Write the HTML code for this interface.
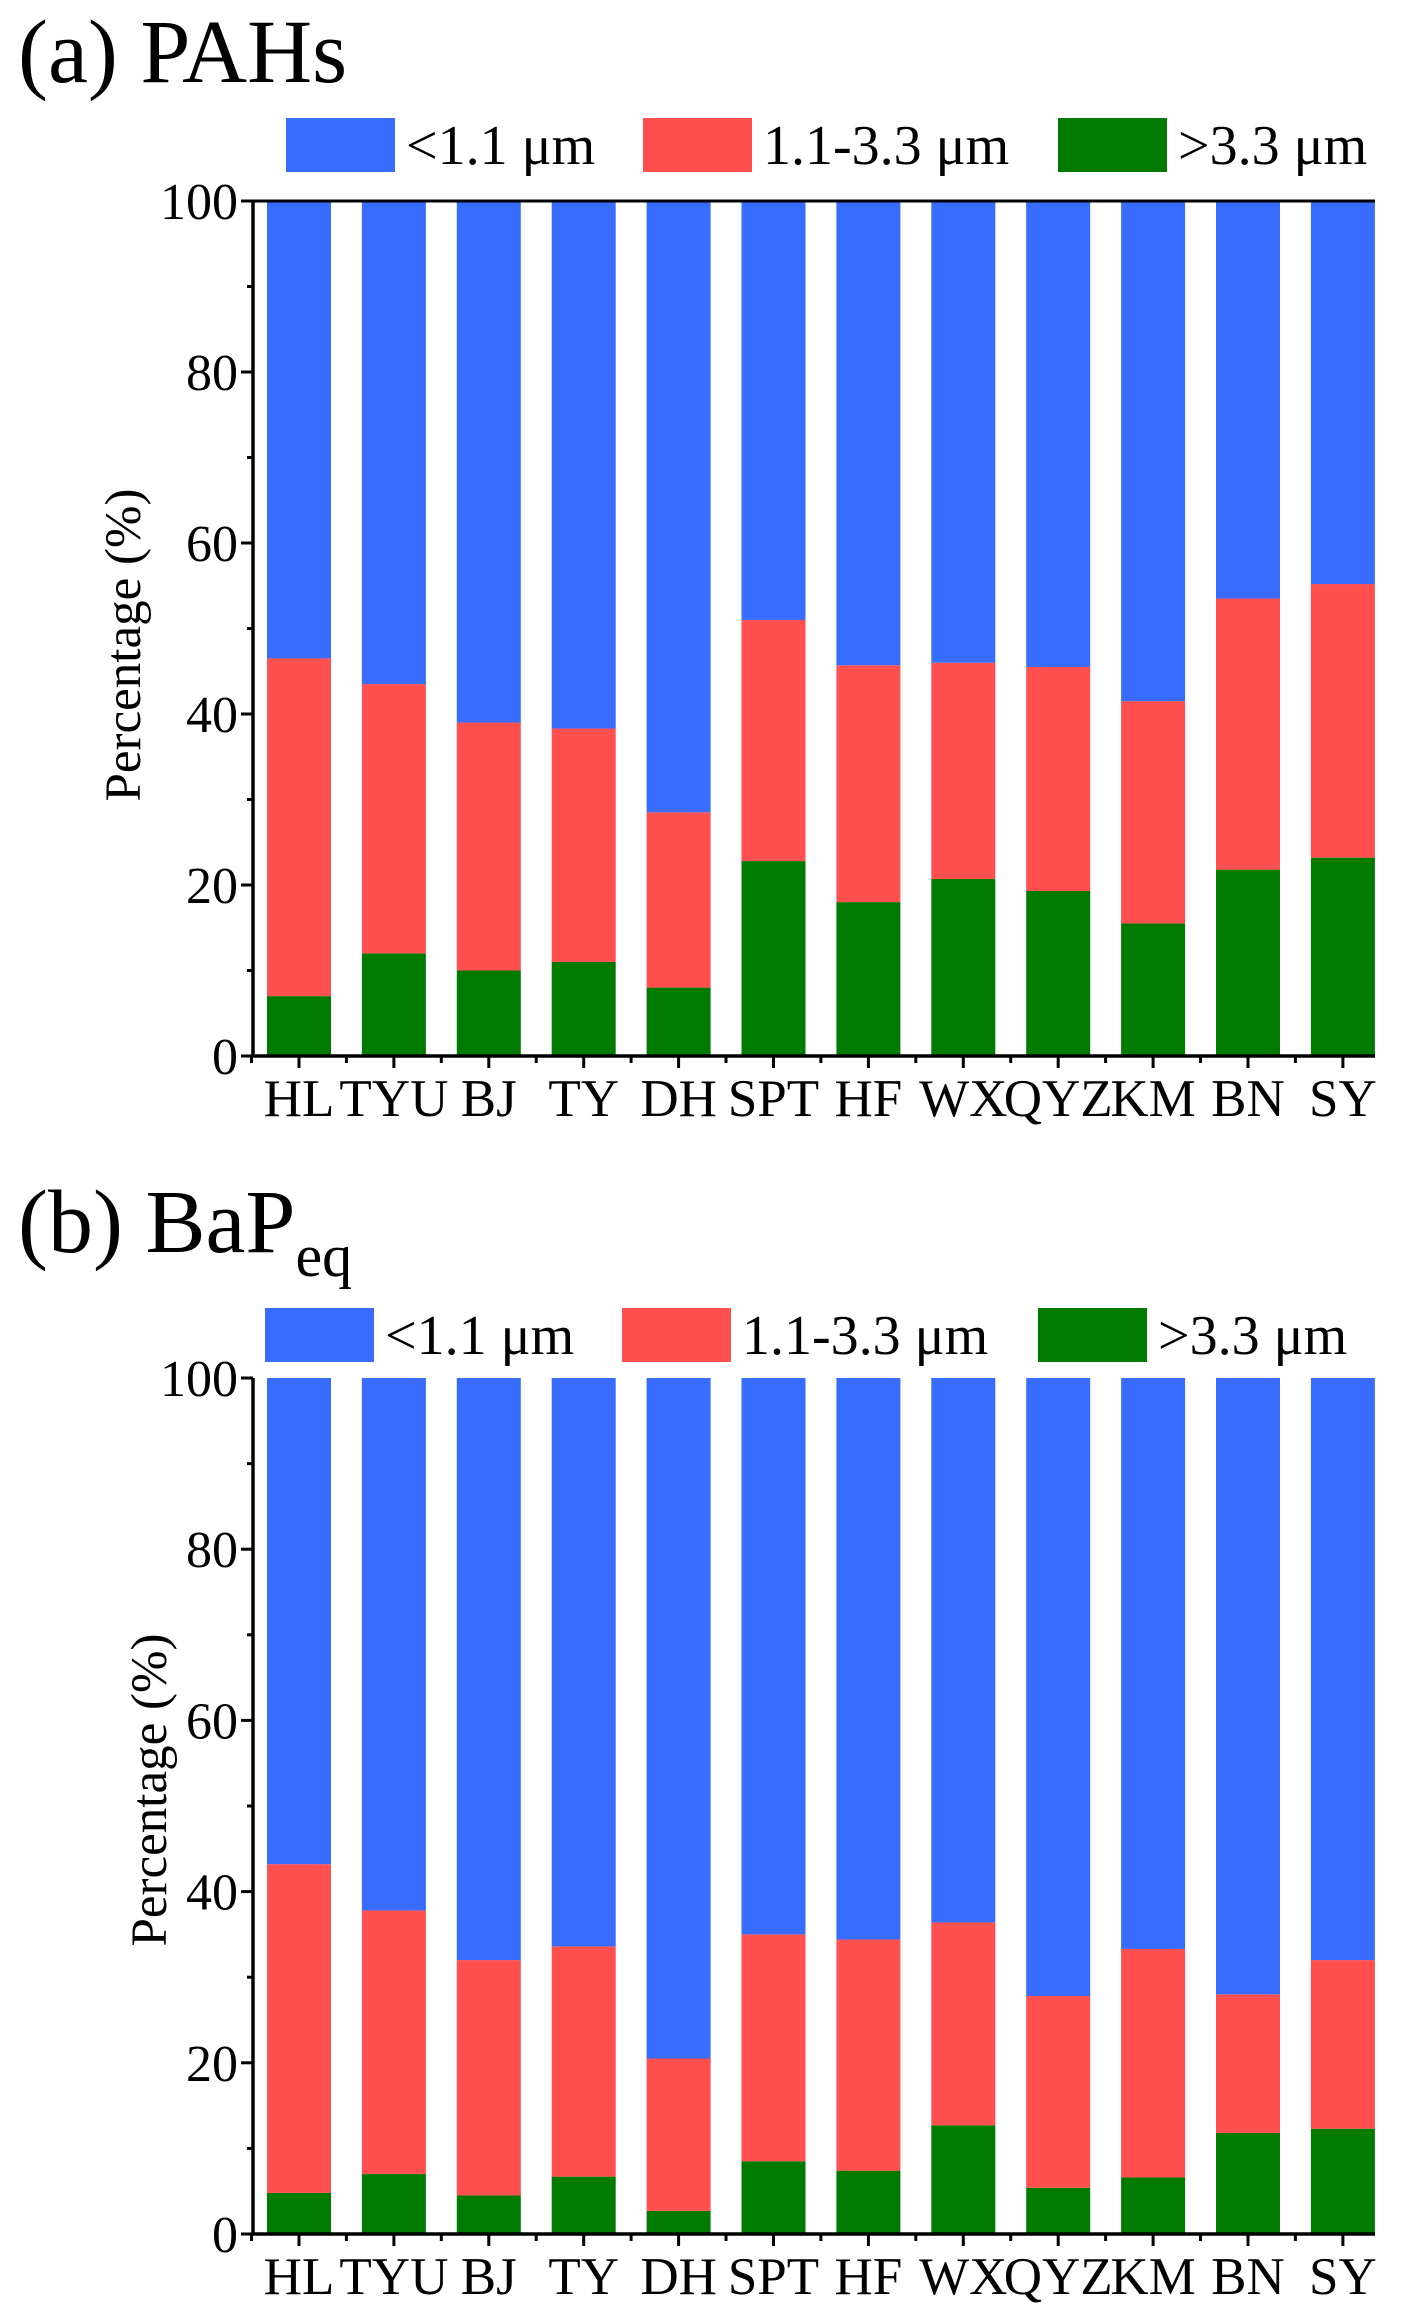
<!DOCTYPE html>
<html><head><meta charset="utf-8"><style>
html,body{margin:0;padding:0;background:#fff;}
svg{display:block;font-family:"Liberation Serif",serif;}
</style></head><body>
<svg id="fig" width="1415" height="2319" viewBox="0 0 1415 2319"></svg>
<script>
const categories = ["HL","TYU","BJ","TY","DH","SPT","HF","WX","QYZ","KM","BN","SY"];
// Panel (a) PAHs
const pahCoarse = [7,12,10,11,8,22.8,18,20.7,19.3,15.5,21.8,23.2];
const pahMid = [39.5,31.5,29,27.3,20.5,28.2,27.7,25.3,26.2,26,31.7,32];
const pahFine = [53.5,56.5,61,61.7,71.5,49,54.3,54,54.5,58.5,46.5,44.8];
// Panel (b) BaPeq
const bapCoarse = [4.8,7,4.5,6.7,2.7,8.5,7.4,12.7,5.4,6.6,11.8,12.3];
const bapMid = [38.4,30.8,27.5,26.9,17.8,26.5,27,23.7,22.4,26.7,16.2,19.7];
const bapFine = [56.8,62.2,68,66.4,79.5,65,65.6,63.6,72.2,66.7,72,68];
const yTicks = [0,20,40,60,80,100];
const legendLabels = ["<1.1 μm","1.1-3.3 μm",">3.3 μm"];
const colors = ["#376cff","#ff4f4f","#007a00"];

const NS="http://www.w3.org/2000/svg";
const svg=document.getElementById('fig');
function mk(tag,attrs,parent){const e=document.createElementNS(NS,tag);for(const k in attrs)e.setAttribute(k,attrs[k]);(parent||svg).appendChild(e);return e;}

function panel(cfg){
  const g=mk('g',{});
  
  
  const L=253,R=1375,T=cfg.top,B=cfg.bottom;
  const y=v=>B-(v/100)*(B-T);
  const xc=i=>299+i*94.9;
  const bw=64;
  categories.forEach((c,i)=>{
    const segs=[[cfg.coarse[i],colors[2],'coarse'],[cfg.mid[i],colors[1],'mid'],[cfg.fine[i],colors[0],'fine']];
    let base=0;
    segs.forEach(s=>{
      const r=mk('rect',{x:xc(i)-bw/2,y:y(base+s[0]),width:bw,height:y(base)-y(base+s[0]),fill:s[1]},g);
      
      
      base+=s[0];
    });
    const t=mk('text',{x:xc(i),y:B+60,'font-size':53,'text-anchor':'middle',fill:'#000'},g);
    t.textContent=c;
    
    
    mk('line',{x1:xc(i),x2:xc(i),y1:B,y2:B+12,stroke:'#000','stroke-width':3},g);
    mk('line',{x1:xc(i)-47.5,x2:xc(i)-47.5,y1:B,y2:B+7,stroke:'#000','stroke-width':3},g);
  });
  mk('line',{x1:L,x2:R,y1:B,y2:B,stroke:'#000','stroke-width':3.5},g);
  mk('line',{x1:L,x2:L,y1:T,y2:B,stroke:'#000','stroke-width':3.5},g);
  if(cfg.topLine) mk('line',{x1:L,x2:R,y1:T,y2:T,stroke:'#000','stroke-width':3},g);
  yTicks.forEach(v=>{
    mk('line',{x1:L-12,x2:L,y1:y(v),y2:y(v),stroke:'#000','stroke-width':3},g);
    if(v<100) mk('line',{x1:L-6,x2:L,y1:y(v+10),y2:y(v+10),stroke:'#000','stroke-width':3},g);
    const t=mk('text',{x:L-15,y:y(v)+18,'font-size':52,'text-anchor':'end',fill:'#000'},g);
    t.textContent=v;
    
    
  });
  const yl=mk('text',{x:0,y:0,'font-size':51,'text-anchor':'middle',transform:`translate(${cfg.ylx},${cfg.yly}) rotate(-90)`},g);
  yl.textContent='Percentage (%)';
  
  
  cfg.legend.forEach((lx,k)=>{
    const r=mk('rect',{x:lx,y:cfg.legY,width:109,height:54,fill:colors[k]},g);
    
    
    const t=mk('text',{x:lx+120,y:cfg.legY+46,'font-size':56,fill:'#000'},g);
    t.textContent=legendLabels[k];
    
    
  });
}

const ta=mk('text',{x:18,y:82,'font-size':90,fill:'#000'});
ta.textContent='(a) PAHs';


panel({name:'panel-a-pahs',top:201,bottom:1056,coarse:pahCoarse,mid:pahMid,fine:pahFine,topLine:true,ylx:140,yly:645,legY:118,legend:[286,643,1058]});

const tb=mk('text',{x:18,y:1252,'font-size':90,fill:'#000'});
tb.innerHTML='(b) BaP<tspan font-size="60" dy="24">eq</tspan>';


panel({name:'panel-b-bapeq',top:1378,bottom:2234,coarse:bapCoarse,mid:bapMid,fine:bapFine,topLine:false,ylx:166,yly:1790,legY:1308,legend:[265,622,1038]});
</script>
</body></html>
